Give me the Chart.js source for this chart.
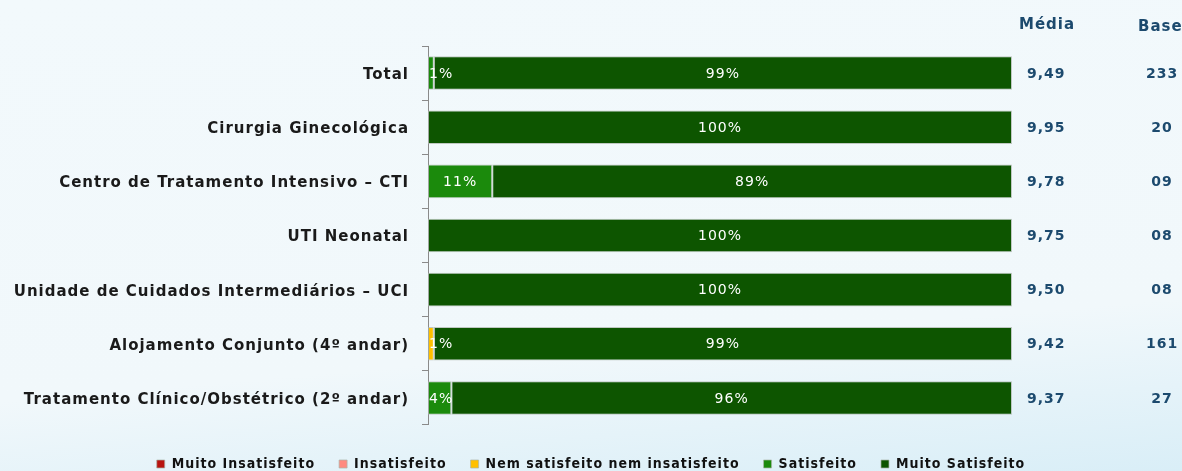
<!DOCTYPE html>
<html>
<head>
<meta charset="utf-8">
<script src="https://cdn.jsdelivr.net/npm/chart.js@4/dist/chart.umd.min.js"></script>
<style>
  html, body { margin: 0; padding: 0; }
  body {
    width: 1182px; height: 471px; overflow: hidden;
    background: linear-gradient(175deg, #f2f9fc 0%, #f1f8fb 70%, #d9eef7 100%);
  }
  #wrap { position: relative; width: 1182px; height: 471px; }
</style>
</head>
<body>
<div id="wrap"><canvas id="satChart"></canvas></div>
<script>
// --- dados ---
const categories = [
  "Total",
  "Cirurgia Ginecológica",
  "Centro de Tratamento Intensivo – CTI",
  "UTI Neonatal",
  "Unidade de Cuidados Intermediários – UCI",
  "Alojamento Conjunto (4º andar)",
  "Tratamento Clínico/Obstétrico (2º andar)"
];
const muitoInsatisfeito = [0, 0, 0, 0, 0, 0, 0];
const insatisfeito      = [0, 0, 0, 0, 0, 0, 0];
const nemNem            = [0, 0, 0, 0, 0, 1, 0];
const satisfeito        = [1, 0, 11, 0, 0, 0, 4];
const muitoSatisfeito   = [99, 100, 89, 100, 100, 99, 96];
const media = ["9,49", "9,95", "9,78", "9,75", "9,50", "9,42", "9,37"];
const base  = ["233", "20", "09", "08", "08", "161", "27"];

const seriesNames = ["Muito Insatisfeito", "Insatisfeito", "Nem satisfeito nem insatisfeito", "Satisfeito", "Muito Satisfeito"];
const seriesColors = ["#b8140f", "#ff8a80", "#ffc000", "#1b8a0c", "#0d5500"];
const seriesData = [muitoInsatisfeito, insatisfeito, nemNem, satisfeito, muitoSatisfeito];

const DARK_BLUE = "#1c4a6e";

// espaçamento entre letras (o original é bem espaçado)
const spacing = {
  id: "spacing",
  beforeLayout(chart) { chart.ctx.letterSpacing = "1px"; },
  beforeDraw(chart) { chart.ctx.letterSpacing = "1px"; }
};

// rótulos de percentagem dentro das barras
const barLabels = {
  id: "barLabels",
  afterDatasetsDraw(chart) {
    const ctx = chart.ctx;
    ctx.save();
    ctx.letterSpacing = "1px";
    ctx.font = "14px 'DejaVu Sans'";
    ctx.fillStyle = "#ffffff";
    ctx.textBaseline = "middle";
    ctx.textAlign = "center";
    chart.data.datasets.forEach((ds, i) => {
      const meta = chart.getDatasetMeta(i);
      meta.data.forEach((bar, j) => {
        const v = ds.data[j];
        if (!v) return;
        const txt = v + "%";
        const w = ctx.measureText(txt).width;
        const x0 = Math.min(bar.x, bar.base);
        const cx = Math.max((bar.x + bar.base) / 2, x0 + w / 2 + 1);
        ctx.fillText(txt, cx, bar.y + 1);
      });
    });
    ctx.restore();
  }
};

// cabeçalhos das colunas Média e Base
const headers = {
  id: "headers",
  afterDraw(chart) {
    const ctx = chart.ctx;
    ctx.save();
    ctx.letterSpacing = "1px";
    ctx.fillStyle = DARK_BLUE;
    ctx.textBaseline = "middle";
    ctx.font = "bold 15px 'DejaVu Sans'";
    ctx.textAlign = "center";
    ctx.fillText("Média", 1047, 25);
    ctx.textAlign = "left";
    ctx.fillText("Base", 1138, 27);
    ctx.restore();
  }
};

const datasets = seriesNames.map((name, i) => ({
  label: name,
  data: seriesData[i],
  backgroundColor: seriesColors[i],
  borderColor: "rgba(170,180,170,0.7)",
  borderWidth: 1,
  borderSkipped: false,
  categoryPercentage: 1,
  barPercentage: 0.62
}));

const sideAxis = (labels, width, pad, weight) => ({
  type: "category",
  labels,
  position: "right",
  offset: true,
  weight,
  afterFit(scale) {
    scale.width = width;
    scale.paddingTop = 0;
    scale.paddingBottom = 0;
  },
  grid: { display: false, drawTicks: false },
  border: { display: false },
  ticks: {
    autoSkip: false,
    crossAlign: "center",
    padding: pad,
    labelOffset: 1,
    color: DARK_BLUE,
    font: { family: "'DejaVu Sans'", size: 14, weight: "bold" }
  }
});

new Chart(document.getElementById("satChart"), {
  type: "bar",
  data: { labels: categories, datasets },
  options: {
    indexAxis: "y",
    responsive: true,
    maintainAspectRatio: false,
    animation: false,
    layout: { padding: { top: 46, right: 0, left: 0, bottom: -10 } },
    scales: {
      x: {
        stacked: true, min: 0, max: 100, display: false
      },
      y: {
        stacked: true,
        afterFit(scale) { scale.width = 428; },
        border: { display: true, color: "#8a8a8a", width: 1 },
        grid: { offset: true, drawOnChartArea: false, tickLength: 6, color: "#8a8a8a" },
        ticks: {
          color: "#1a1a1a",
          padding: 13,
          labelOffset: 2,
          autoSkip: false,
          font: { family: "'DejaVu Sans'", size: 15, weight: "bold" }
        }
      },
      media: sideAxis(media, 90, 15, 0),
      base: sideAxis(base, 80, 44, 1)
    },
    plugins: {
      tooltip: { enabled: false },
      legend: {
        position: "bottom",
        title: { display: true, text: " ", padding: 0, font: { size: 6.67 } },
        labels: {
          boxWidth: 8, boxHeight: 8,
          padding: 24,
          color: "#111",
          font: { family: "'DejaVu Sans Condensed'", size: 14, weight: "bold" }
        }
      }
    }
  },
  plugins: [spacing, barLabels, headers]
});
</script>
</body>
</html>
